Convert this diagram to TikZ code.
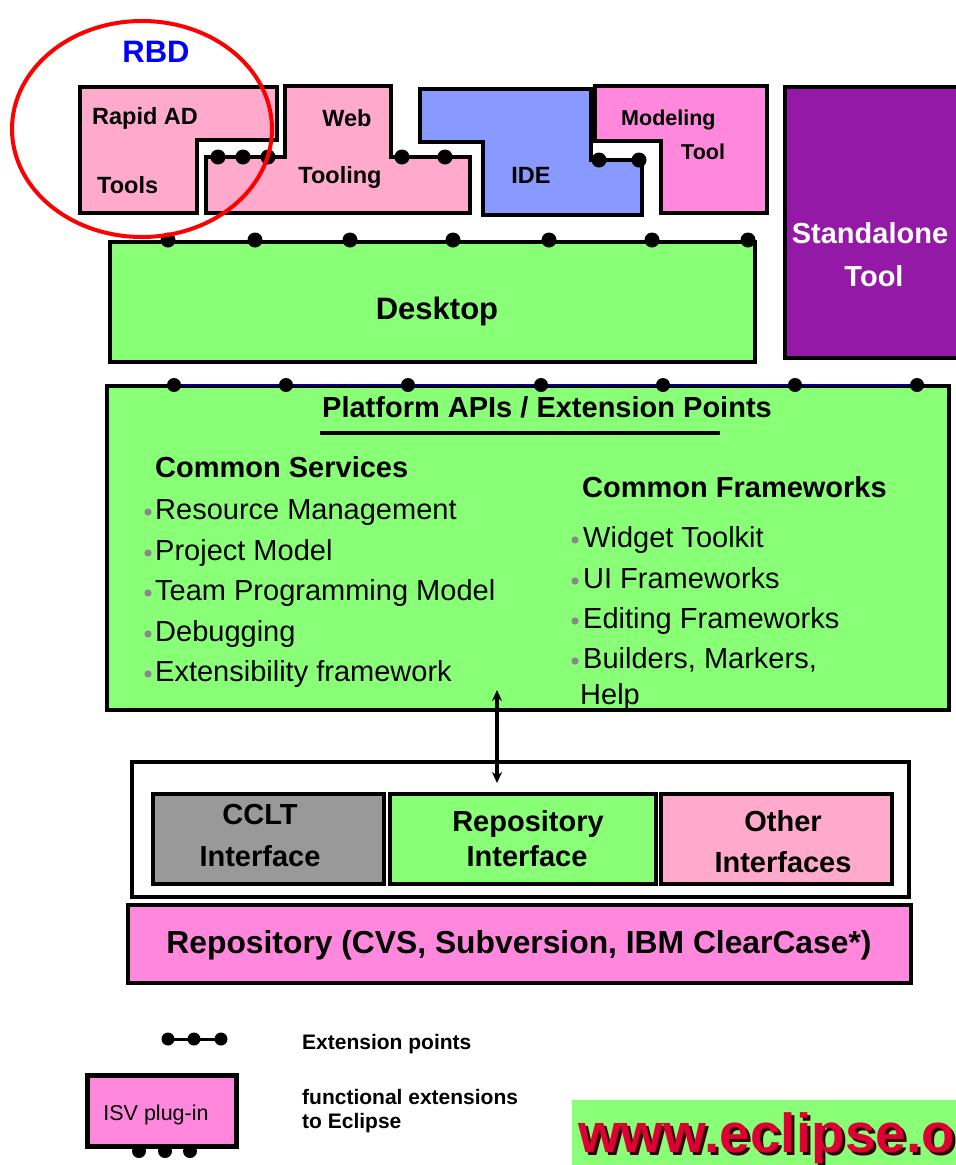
\documentclass[tikz,border=0pt]{standalone}
\usepackage{fontspec}
\setmainfont{Liberation Sans}
\usetikzlibrary{arrows.meta}
\definecolor{lpink}{HTML}{FFAACC}
\definecolor{mpink}{HTML}{FF88DD}
\definecolor{ideblue}{HTML}{8899FF}
\definecolor{lgreen}{HTML}{88FF77}
\definecolor{purp}{HTML}{9419A6}
\definecolor{cgray}{HTML}{999999}
\definecolor{rbdblue}{HTML}{0000FF}
\definecolor{navyline}{HTML}{000080}
\definecolor{ecred}{HTML}{DD0033}
\definecolor{ecshadow}{HTML}{330000}
\definecolor{bulgray}{HTML}{888888}
\newcommand\fsz[1]{\fontsize{#1}{#1}\selectfont}
\begin{document}
\begin{tikzpicture}[x=1pt,y=-1pt,
  box/.style={draw=black,line width=4.5pt,line join=miter},
  tl/.style={inner sep=0pt,font=\bfseries\fsz{23.5}},
  ml/.style={inner sep=0pt,font=\bfseries\fsz{21.5}},
  big/.style={inner sep=0pt,font=\bfseries\fsz{29}},
  item/.style={inner sep=0pt,anchor=base west,font=\fsz{29}},
  leg/.style={inner sep=0pt,anchor=base west,font=\bfseries\fsz{21}},
]
\useasboundingbox (0,0) rectangle (956,1165);

% ---------- top tools ----------
\draw[box,fill=lpink] (80,87) -- (277,87) -- (277,140) -- (197,140) -- (197,213) -- (80,213) -- cycle;
\draw[box,fill=lpink] (285,86) -- (391,86) -- (391,157) -- (470,157) -- (470,213) -- (206,213) -- (206,157) -- (285,157) -- cycle;
\draw[box,fill=ideblue] (420,89) -- (591,89) -- (591,160) -- (642,160) -- (642,215) -- (483,215) -- (483,142) -- (420,142) -- cycle;
\draw[box,fill=mpink] (595,86) -- (767,86) -- (767,213) -- (661,213) -- (661,141) -- (595,141) -- cycle;
\foreach \x in {218,243,268,402,445} \fill (\x,157) circle[radius=7.5pt];
\foreach \x in {599,639} \fill (\x,160) circle[radius=7.5pt];

\node[tl,anchor=base west] (rapid) at (92,124) {Rapid AD};
\node[tl,anchor=base west] (tools) at (97,193) {Tools};
\node[tl,anchor=base] (web) at (347,126) {Web};
\node[tl,anchor=base] (tooling) at (340,183) {Tooling};
\node[tl,anchor=base] (ide) at (531,183) {IDE};
\node[ml,anchor=base west] (model) at (621,125) {Modeling};
\node[ml,anchor=base west] (mtool) at (681,159) {Tool};

% ---------- standalone ----------
\draw[box,fill=purp] (785,87) rectangle (964,358);
\node[big,anchor=base,text=white] (stand) at (870,243) {Standalone};
\node[big,anchor=base,text=white] (stool) at (874,286) {Tool};

% ---------- desktop ----------
\draw[box,fill=lgreen] (110,242) rectangle (755,362);
\foreach \x in {168,255,350,453,549,652,748} \fill (\x,240) circle[radius=7.5pt];
\node[inner sep=0pt,anchor=base,font=\bfseries\fsz{31}] (desk) at (437,319) {Desktop};

% ---------- platform ----------
\draw[box,fill=lgreen] (107,386) rectangle (949,710);
\draw[navyline,line width=2pt] (174,385) -- (917,385);
\foreach \x in {174,286,408,541,663,795,917} \fill (\x,385) circle[radius=7pt];
\node[big,anchor=base] (api) at (547,417) {Platform APIs / Extension Points};
\fill (320,431) rectangle (720,435);

\node[big,anchor=base west] (cs) at (155,477) {Common Services};
\foreach \y/\t/\n in {519/Resource Management/a,560/Project Model/b,600/Team Programming Model/c,641/Debugging/d,681/Extensibility framework/e}{
  \fill[bulgray] (148,\y-7) circle[radius=3.6pt];
  \node[item] (cs\n) at (155,\y) {\t};
}
\node[big,anchor=base west] (cf) at (582,497) {Common Frameworks};
\foreach \y/\t/\n in {547/Widget Toolkit/a,588/UI Frameworks/b,628/Editing Frameworks/c,668/{Builders, Markers,}/d}{
  \fill[bulgray] (575,\y-7) circle[radius=3.6pt];
  \node[item] (cf\n) at (583,\y) {\t};
}
\node[item] (help) at (580,704) {Help};

% ---------- interfaces ----------
\draw[draw=black,line width=4pt,fill=white] (132,762) rectangle (909,897);
\draw[box,fill=cgray] (153,794) rectangle (384,884);
\draw[box,fill=lgreen] (390,794) rectangle (656,884);
\draw[box,fill=lpink] (661,794) rectangle (892,884);
\node[big,anchor=base] (cclt) at (260,824) {CCLT};
\node[big,anchor=base] (cclti) at (260,866) {Interface};
\node[big,anchor=base] (repi) at (528,831) {Repository};
\node[big,anchor=base] (repii) at (527,866) {Interface};
\node[big,anchor=base] (oth) at (783,831) {Other};
\node[big,anchor=base] (othi) at (783,872) {Interfaces};

\coordinate (arrTop) at (497,690);
\coordinate (arrBot) at (497,783);
\draw[line width=3.5pt,{Stealth[length=11pt,width=10pt]}-{Stealth[length=11pt,width=10pt]}] (arrTop) -- (arrBot);

\draw[box,fill=mpink] (128,905) rectangle (911,983);
\node[inner sep=0pt,anchor=base,font=\bfseries\fsz{31.8}] (repo) at (519,953) {Repository (CVS, Subversion, IBM ClearCase*)};

% ---------- legend ----------
\draw[line width=3pt] (168,1039) -- (221,1039);
\foreach \x in {168,194,221} \fill (\x,1039) circle[radius=6.5pt];
\node[leg] (lext) at (302,1049) {Extension points};
\draw[draw=black,line width=5pt,fill=mpink] (87,1075) rectangle (236,1146);
\foreach \x in {139,165,190} \fill (\x,1151) circle[radius=7pt];
\node[inner sep=0pt,anchor=base,font=\fsz{21.5}] (isv) at (156,1120) {ISV plug-in};
\node[leg] (lfun) at (302,1104) {functional extensions};
\node[leg] (lecl) at (302,1128) {to Eclipse};

% ---------- eclipse banner ----------
\fill[lgreen] (572,1100) rectangle (956,1165);
\begin{scope}
\clip (572,1100) rectangle (956,1165);
\node[inner sep=0pt,anchor=base west,font=\bfseries\fsz{55}] (ec) at (578,1152)
  {\rlap{\kern3pt\raisebox{-3pt}{\color{ecshadow}www.eclipse.o}}\color{ecred}www.eclipse.o};
\end{scope}

% ---------- RBD ----------
\draw[red,line width=4pt] (142,129) ellipse[x radius=130pt,y radius=108pt];
\node[inner sep=0pt,anchor=base,font=\bfseries\fsz{31},text=rbdblue] (rbd) at (156,62) {RBD};
\end{tikzpicture}
\end{document}
